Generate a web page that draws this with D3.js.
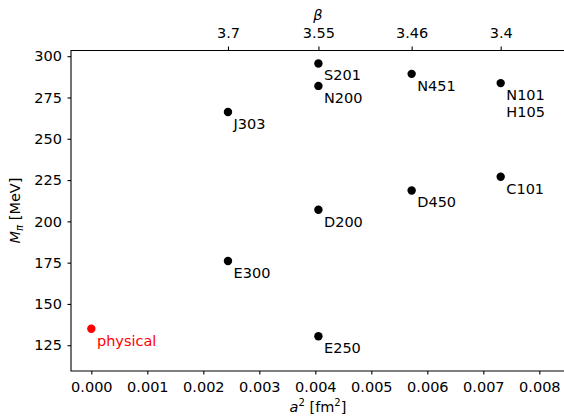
<!DOCTYPE html>
<html>
<head>
<meta charset="utf-8">
<script src="https://cdn.jsdelivr.net/npm/d3@7"></script>
<style>
    body { margin: 0; background: #fff; }
    svg text { font-family: 'DejaVu Sans', sans-serif; }
    .tick text { font-size: 14.5px; fill: #000; }
    .tick line { stroke: #000; stroke-width: 1.1; }
    .spine { stroke: #000; stroke-width: 1.1; fill: none; }
    .axis-label { font-size: 14.5px; fill: #000; }
    .point-label { font-size: 14.5px; }
</style>
</head>
<body>
<div id="chart"></div>
<script>
// ensembles: name, lattice spacing squared [fm^2], pion mass [MeV]
const labels = ['physical', 'J303', 'E300', 'S201', 'N200', 'D200', 'E250', 'N451', 'D450', 'N101\nH105', 'C101']
const aSq = [0, 0.00244, 0.00244, 0.004055, 0.004055, 0.004055, 0.004055, 0.00572, 0.00572, 0.00731, 0.00731]
const mPi = [135, 266.2, 176.0, 295.6, 282.0, 207.0, 130.4, 289.3, 218.7, 283.7, 227.0]

const betaLabels = ['3.7', '3.55', '3.46', '3.4']
const betaASq = [0.00244, 0.004055, 0.00572, 0.00731]

const xTicks = [0, 0.001, 0.002, 0.003, 0.004, 0.005, 0.006, 0.007, 0.008]
const yTicks = [125, 150, 175, 200, 225, 250, 275, 300]

const width = 564
const height = 416
const layout = { left: 71, right: 565, top: 50, bottom: 371 }

const xMin = -0.000363
const xMax = xMin + (layout.right - layout.left) / 56000
const yMin = 109.4
const yMax = 303.75

const xScale = d3.scaleLinear().domain([xMin, xMax]).range([layout.left, layout.right])
const yScale = d3.scaleLinear().domain([yMin, yMax]).range([layout.bottom, layout.top])

const svg = d3.select('#chart').append('svg')
    .attr('width', width)
    .attr('height', height)

// bottom axis
const xAxisEl = svg.append('g')
    .attr('transform', 'translate(0,' + layout.bottom + ')')
    .call(d3.axisBottom(xScale).tickValues(xTicks).tickFormat(d3.format('.3f')).tickSizeInner(3.5).tickSizeOuter(0))
xAxisEl.select('.domain').remove()
xAxisEl.selectAll('.tick text').attr('y', 11).attr('dy', '0.71em')

// top axis (beta)
const topAxis = d3.axisTop(xScale)
    .tickValues(betaASq)
    .tickFormat((d, i) => betaLabels[i])
    .tickSizeInner(3.5).tickSizeOuter(0).tickPadding(9)
const topAxisEl = svg.append('g')
    .attr('transform', 'translate(0,' + layout.top + ')')
    .call(topAxis)
topAxisEl.select('.domain').remove()

// left axis
const yAxisEl = svg.append('g')
    .attr('transform', 'translate(' + layout.left + ',0)')
    .call(d3.axisLeft(yScale).tickValues(yTicks).tickSizeInner(3.5).tickSizeOuter(0).tickPadding(5.5))
yAxisEl.select('.domain').remove()

svg.selectAll('.tick text').attr('font-family', null).attr('font-size', null)

// spines
svg.append('path').attr('class', 'spine')
    .attr('d', `M ${layout.left} ${layout.top} V ${layout.bottom} H ${layout.right}`)
    .attr('stroke', '#000')
svg.append('path').attr('class', 'spine')
    .attr('d', `M ${layout.left} ${layout.top + 0.5} H ${layout.right}`)

// axis labels
const xLabel = svg.append('text')
    .attr('class', 'axis-label')
    .attr('x', (layout.left + layout.right) / 2)
    .attr('y', 412)
    .attr('text-anchor', 'middle')
xLabel.append('tspan').attr('font-style', 'italic').text('a')
xLabel.append('tspan').attr('font-size', '10px').attr('dy', -6).text('2')
xLabel.append('tspan').attr('dy', 6).text(' [fm')
xLabel.append('tspan').attr('font-size', '10px').attr('dy', -6).text('2')
xLabel.append('tspan').attr('dy', 6).text(']')

const yLabel = svg.append('text')
    .attr('class', 'axis-label')
    .attr('transform', `translate(20,${(layout.top + layout.bottom) / 2}) rotate(-90)`)
    .attr('text-anchor', 'middle')
yLabel.append('tspan').attr('font-style', 'italic').text('M')
yLabel.append('tspan').attr('font-style', 'italic').attr('font-size', '10px').attr('dy', 3).text('π')
yLabel.append('tspan').attr('dy', -3).text(' [MeV]')

svg.append('text')
    .attr('class', 'axis-label')
    .attr('x', (layout.left + layout.right) / 2)
    .attr('y', 19.5)
    .attr('text-anchor', 'middle')
    .attr('font-style', 'italic')
    .text('β')

// points and labels
const points = labels.map((name, i) => ({ name: name, x: aSq[i], y: mPi[i], color: name === 'physical' ? '#ff0000' : '#000000' }))

const pointsG = svg.append('g')
pointsG.selectAll('circle')
    .data(points)
    .enter()
    .append('circle')
    .attr('cx', d => xScale(d.x))
    .attr('cy', d => yScale(d.y))
    .attr('r', 4.2)
    .attr('fill', d => d.color)

const labelsG = svg.append('g')
labelsG.selectAll('text')
    .data(points)
    .enter()
    .append('text')
    .attr('class', 'point-label')
    .attr('fill', d => d.color)
    .each(function (d) {
        const t = d3.select(this)
        d.name.split('\n').forEach((line, k) => {
            t.append('tspan')
                .attr('x', xScale(d.x) + 5.6)
                .attr('y', yScale(d.y) + 16.8 + k * 17.4)
                .text(line)
        })
    })
</script>
</body>
</html>
